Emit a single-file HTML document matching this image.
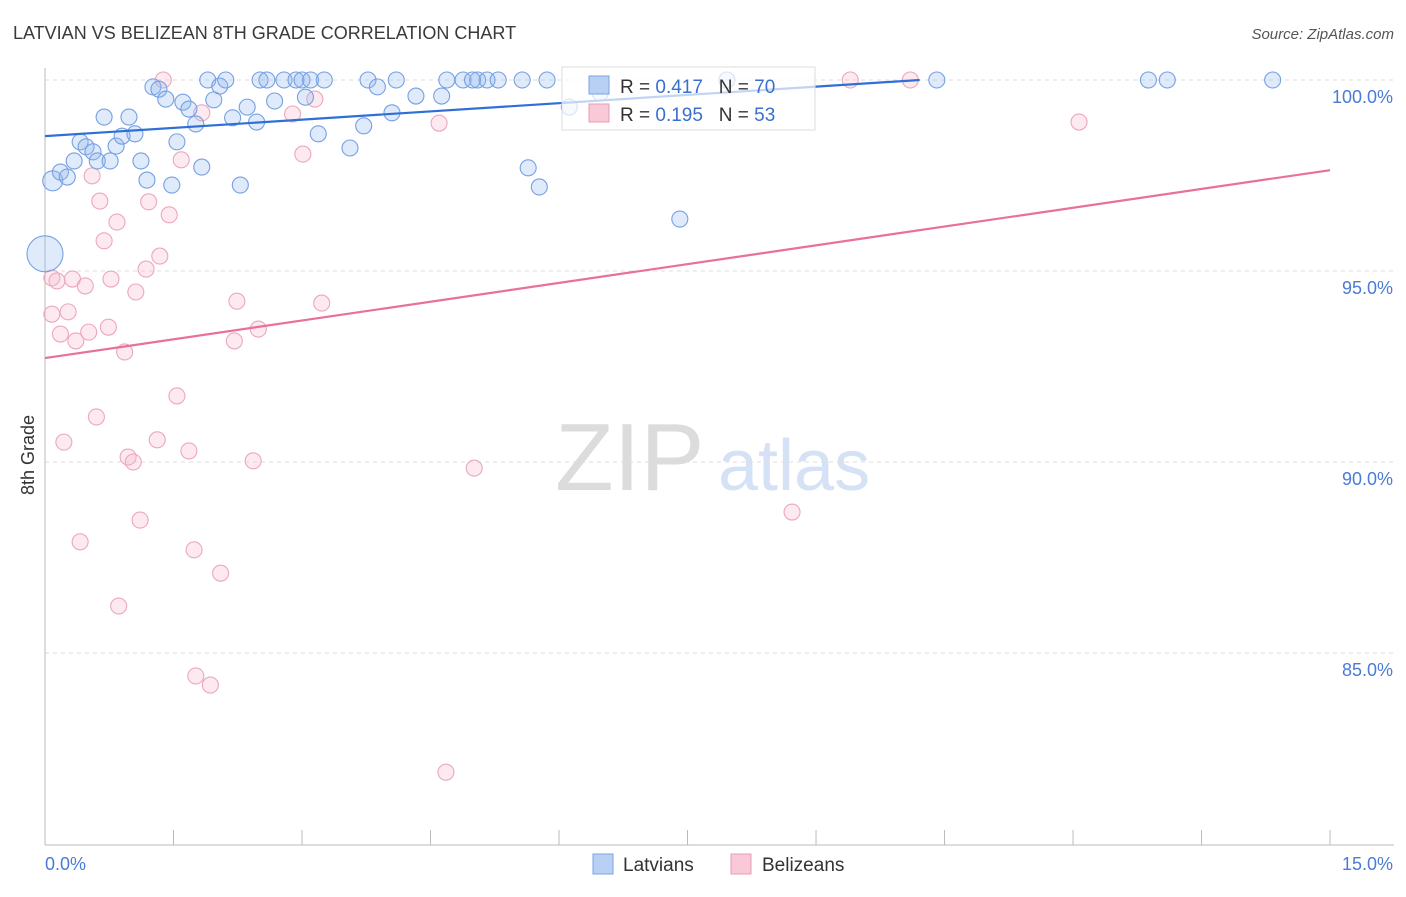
<!DOCTYPE html>
<html><head><meta charset="utf-8"><style>
body{margin:0;background:#fff;font-family:"Liberation Sans",sans-serif}
svg text{font-family:"Liberation Sans",sans-serif}
</style></head><body>
<svg id="c" width="1406" height="892" viewBox="0 0 1406 892">
<text x="13" y="39" font-size="18" fill="#3a3a3a">LATVIAN VS BELIZEAN 8TH GRADE CORRELATION CHART</text>
<text x="1394" y="39" font-size="15" fill="#555" font-style="italic" text-anchor="end">Source: ZipAtlas.com</text>
<text x="555" y="490" font-size="96" fill="#dcdcdc" font-family="Liberation Serif,serif">ZIP</text>
<text x="718" y="490" font-size="72" fill="#d5e2f5">atlas</text>
<text transform="translate(34,455) rotate(-90)" font-size="18" fill="#333" text-anchor="middle">8th Grade</text>
<g id="grid"></g><g id="pts"></g><g id="lines"></g>
<g>
<rect x="562" y="67" width="253" height="63" fill="rgba(255,255,255,0.7)" stroke="#ddd"/>
<rect x="589" y="76" width="20" height="18" fill="#b8d0f3" stroke="#7aa3e0"/>
<rect x="589" y="104" width="20" height="18" fill="#f9c9d8" stroke="#e89ab4"/>
<text x="620" y="93" font-size="19" fill="#333" xml:space="preserve">R = <tspan fill="#3a6fd0">0.417</tspan>   N = <tspan fill="#3a6fd0">70</tspan></text>
<text x="620" y="121" font-size="19" fill="#333" xml:space="preserve">R = <tspan fill="#3a6fd0">0.195</tspan>   N = <tspan fill="#3a6fd0">53</tspan></text>
</g>
<g>
<rect x="593" y="854" width="20" height="20" fill="#b8d0f3" stroke="#7aa3e0"/>
<text x="623" y="871" font-size="19" fill="#333">Latvians</text>
<rect x="731" y="854" width="20" height="20" fill="#f9c9d8" stroke="#e89ab4"/>
<text x="762" y="871" font-size="19" fill="#333">Belizeans</text>
</g>
</svg>
<script>
const blueX=[0.09,0,0.18,0.26,0.34,0.41,0.48,0.56,0.61,0.69,0.76,0.83,0.90,0.98,1.05,1.12,1.19,1.26,1.33,1.41,1.48,1.54,1.61,1.68,1.76,1.83,1.90,1.97,2.04,2.11,2.19,2.28,2.36,2.47,2.51,2.59,2.68,2.79,2.93,3.00,3.04,3.10,3.19,3.26,3.56,3.72,3.77,3.88,4.05,4.10,4.33,4.63,4.69,4.88,5.05,5.16,5.29,5.57,5.64,5.77,5.86,6.12,6.48,7.41,7.96,10.41,12.88,13.10,14.33,4.99];
const blueY=[97.36,95.45,97.59,97.46,97.88,98.38,98.25,98.12,97.88,99.03,97.88,98.27,98.53,99.03,98.59,97.88,97.38,99.82,99.76,99.50,97.25,98.38,99.42,99.24,98.85,97.72,100,99.48,99.84,100,99.01,97.25,99.29,98.90,100,100,99.45,100,100,100,99.55,100,98.59,100,98.22,98.80,100,99.82,99.14,100,99.58,99.58,100,100,100,100,100,100,97.70,97.20,100,99.29,99.66,96.36,100,100,100,100,100,100];
const pinkX=[1.38,1.83,2.89,3.15,3.01,4.60,9.40,10.10,12.07,1.59,0.55,0.64,0.84,1.21,1.45,0.69,1.34,1.18,0.08,0.14,0.32,0.47,0.77,1.06,2.24,3.23,0.27,0.08,0.18,0.36,0.51,0.74,2.21,2.49,0.93,1.54,0.60,0.22,1.31,0.97,1.68,1.03,2.43,5.01,1.11,0.41,1.74,8.72,2.05,0.86,1.76,1.93,4.68];
const pinkY=[100,99.14,99.11,99.50,98.06,98.87,100,100,98.90,97.91,97.49,96.83,96.28,96.81,96.47,95.79,95.39,95.05,94.82,94.74,94.79,94.61,94.79,94.45,94.21,94.16,93.93,93.87,93.35,93.17,93.40,93.53,93.17,93.48,92.88,91.73,91.18,90.52,90.58,90.13,90.29,90.00,90.03,89.84,88.48,87.91,87.70,88.69,87.09,86.23,84.40,84.16,81.88];
const blueTrend=[[0,98.53],[10.21,100]];
const pinkTrend=[[0,92.72],[15,97.64]];
const yTicks=[100,95,90,85];
const NS='http://www.w3.org/2000/svg';
const X=v=>45+v*85.67, Y=v=>80+(100-v)*38.2;
function mk(t,a,p){const e=document.createElementNS(NS,t);for(const k in a)e.setAttribute(k,a[k]);p.appendChild(e);return e;}
const g=document.getElementById('grid');
yTicks.forEach(t=>{const l=mk('line',{x1:45,x2:1394,y1:Y(t),y2:Y(t),stroke:'#ddd','stroke-dasharray':'4,4'},g);


const tx=mk('text',{x:1393,y:Y(t)+23,'font-size':18,fill:'#4a7bd6','text-anchor':'end'},g);tx.textContent=t.toFixed(1)+'%';

});
const ax=mk('line',{x1:45,x2:1394,y1:845,y2:845,stroke:'#bbb'},g);


const ay=mk('line',{x1:45,x2:45,y1:68,y2:845,stroke:'#bbb'},g);


for(let i=1;i<=10;i++){const tk=mk('line',{x1:X(i*1.5),x2:X(i*1.5),y1:830,y2:845,stroke:'#bbb'},g);

}
[[0,'0.0%','start',45],[15,'15.0%','end',1393]].forEach(a=>{const t=mk('text',{x:a[3],y:870,'font-size':18,fill:'#4a7bd6','text-anchor':a[2]},g);t.textContent=a[1];

});
const p=document.getElementById('pts');
pinkX.forEach((v,i)=>{const c=mk('circle',{cx:X(v),cy:Y(pinkY[i]),r:8,fill:'rgba(246,185,205,0.3)',stroke:'#eca6be','stroke-width':1.1},p);

});
blueX.forEach((v,i)=>{const r=i==1?18:(i==0?10:8);const c=mk('circle',{cx:X(v),cy:Y(blueY[i]),r:r,fill:'rgba(150,185,238,0.3)',stroke:'#75a0e2','stroke-width':1.1},p);

});
const L=document.getElementById('lines');
const bl=mk('line',{x1:X(blueTrend[0][0]),y1:Y(blueTrend[0][1]),x2:X(blueTrend[1][0]),y2:Y(blueTrend[1][1]),stroke:'#2f6fd6','stroke-width':2.2},L);


const pl=mk('line',{x1:X(pinkTrend[0][0]),y1:Y(pinkTrend[0][1]),x2:X(pinkTrend[1][0]),y2:Y(pinkTrend[1][1]),stroke:'#e8709a','stroke-width':2.2},L);


</script>
</body></html>
